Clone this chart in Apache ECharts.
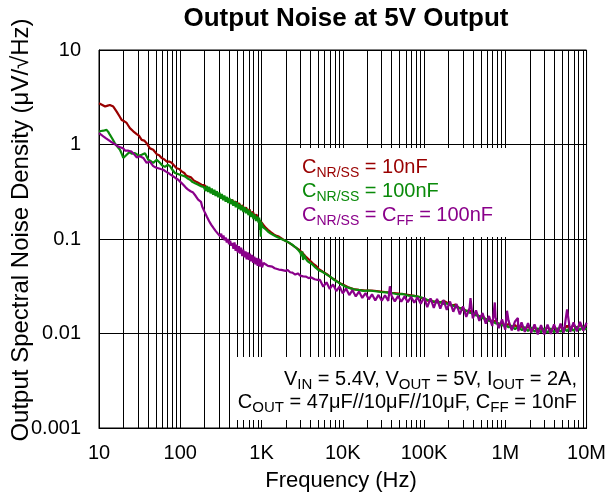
<!DOCTYPE html>
<html><head><meta charset="utf-8">
<script src="https://cdn.jsdelivr.net/npm/echarts@6/dist/echarts.min.js"></script>
<style>html,body{margin:0;padding:0;background:#fff}#c{width:609px;height:497px}</style>
</head><body><div id="c"></div>
<script>
// ---------- DATA ----------
const xTickLabels = ['10','100','1K','10K','100K','1M','10M'];
const yTickLabels = ['0.001','0.01','0.1','1','10'];

const redF = [10,11,11.9,12.8,13.6,15,16.5,17.8,19,20.5,21.9,23,24,25.2,26.4,27.8,29.1,31,33.5,36,38.6,40.5,42.4,44.5,46.5,51.3,55,59,63,68,73,78.4,84,90.3,97,104,112,118,125,135,145,152,160,170,183,192,
200,210,221,232,244,256,269,282,296,311,326,342,359,377,396,416,436,458,481,505,530,557,585,614,645,677,711,746,784,823,864,907,952,1000,1050,1122,1200,1300,1420,1530,1636,1800,1950,2173,2400,2600,2884,3200,3500,3828,4300,4700,5081,5700,6370,7200,8000,8950,10000,11500,13500,15800,19000,23000,27800,33000,40000,49000,57000,66000,76000,86000,
100000,110000,120000,132000,145000,158000,174000,184000,200000,220000,244000,270000,300000,330000,363000,400000,436000,480000,525000,575000,630000,690000,760000,830000,910000,1e6,1.1e6,1.2e6,1.32e6,1.45e6,1.6e6,1.74e6,1.9e6,2.1e6,2.3e6,2.5e6,2.75e6,3e6,3.3e6,3.6e6,4e6,4.4e6,4.8e6,5.2e6,5.75e6,6.3e6,6.9e6,7.6e6,8.3e6,9.1e6,1e7];
const redV = [2.73,2.62,2.52,2.58,2.62,2.52,2.23,2.0,1.82,1.76,1.69,1.58,1.49,1.46,1.38,1.36,1.29,1.24,1.12,1.1,1.03,1.0,0.91,0.93,0.88,0.79,0.77,0.72,0.7,0.66,0.66,0.64,0.6,0.56,0.55,0.52,0.5,0.47,0.46,0.45,0.42,0.42,0.4,0.39,0.375,0.37,
0.37,0.35,0.36,0.333,0.344,0.316,0.326,0.3,0.312,0.286,0.296,0.272,0.283,0.258,0.27,0.248,0.261,0.238,0.25,0.227,0.24,0.216,0.228,0.205,0.216,0.195,0.206,0.184,0.194,0.173,0.182,0.161,0.167,0.15,0.142,0.132,0.125,0.118,0.112,0.108,0.106,0.1,0.096,0.0915,0.086,0.082,0.0773,0.071,0.065,0.0606,0.055,0.052,0.048,0.045,0.0425,0.039,0.037,0.0345,0.033,0.031,0.0295,0.029,0.0285,0.0285,0.028,0.0275,0.027,0.0265,0.026,0.0255,0.025,0.0245,
0.0232,0.0222,0.0228,0.0215,0.0222,0.0212,0.0222,0.0213,0.0208,0.0198,0.0202,0.0186,0.0186,0.0172,0.0176,0.016,0.0162,0.015,0.0153,0.0141,0.0143,0.0132,0.0136,0.0125,0.0129,0.012,0.0126,0.0115,0.0123,0.0112,0.012,0.011,0.0119,0.0108,0.0117,0.0106,0.0116,0.0104,0.0118,0.0105,0.0119,0.0106,0.012,0.0108,0.0121,0.011,0.0124,0.0111,0.0126,0.0113,0.0125];

const greenF = [10,10.6,11.3,12.4,13,13.6,14.6,15.7,16.8,18.1,19,19.9,21.9,24,25.2,26.4,27.7,29.1,31,33.5,36.8,38.5,40.4,43,46.5,49,51.3,56.2,60,64.8,70,74.7,80,86,92,99,106,114,122,132,142,152,162,170,183,195,
205,212,220,228,236,245,254,263,272,282,292,303,314,325,337,349,362,375,389,403,418,433,449,465,482,500,518,537,557,577,598,620,643,666,690,715,741,768,796,825,855,886,918,935,952,965,980,995,
1010,1060,1122,1200,1300,1400,1490,1600,1750,1900,2050,2200,2389,2550,2700,2850,3000,3100,3170,3250,3350,3500,3700,3900,4200,4600,5000,5600,6200,7000,7800,8700,9700,11000,12500,14000,16000,18000,21000,25000,29000,34000,40000,47000,55000,64000,74000,86000,
100000,110000,120000,132000,145000,158000,174000,190000,210000,230000,250000,275000,300000,330000,365000,400000,440000,480000,525000,575000,630000,690000,760000,830000,910000,1e6,1.1e6,1.2e6,1.32e6,1.45e6,1.6e6,1.74e6,1.9e6,2.1e6,2.3e6,2.5e6,2.75e6,3e6,3.3e6,3.6e6,4e6,4.4e6,4.8e6,5.2e6,5.75e6,6.3e6,6.9e6,7.6e6,8.3e6,9.1e6,1e7];
const greenV = [1.37,1.39,1.4,1.43,1.36,1.27,1.15,1.03,0.95,0.88,0.8,0.72,0.78,0.84,0.8,0.78,0.81,0.79,0.76,0.78,0.81,0.75,0.69,0.67,0.64,0.67,0.69,0.64,0.6,0.58,0.61,0.59,0.54,0.5,0.49,0.479,0.47,0.46,0.44,0.424,0.4,0.39,0.38,0.375,0.36,0.355,
0.322,0.365,0.315,0.356,0.304,0.342,0.294,0.332,0.285,0.321,0.276,0.31,0.266,0.3,0.257,0.289,0.248,0.279,0.24,0.271,0.234,0.262,0.225,0.253,0.217,0.244,0.208,0.234,0.201,0.226,0.193,0.217,0.187,0.209,0.179,0.2,0.171,0.19,0.163,0.182,0.155,0.173,0.149,0.169,0.125,0.16,0.106,0.15,
0.142,0.132,0.127,0.12,0.114,0.11,0.107,0.104,0.1,0.097,0.094,0.091,0.087,0.083,0.08,0.076,0.072,0.066,0.074,0.06,0.068,0.062,0.058,0.057,0.054,0.05,0.047,0.045,0.0425,0.04,0.037,0.035,0.033,0.031,0.03,0.0292,0.0288,0.0282,0.0285,0.028,0.0275,0.0272,0.0268,0.026,0.0262,0.0252,0.025,0.0245,
0.0236,0.0226,0.0222,0.0218,0.0213,0.0215,0.0206,0.0208,0.02,0.0197,0.019,0.0186,0.0178,0.0175,0.0166,0.0163,0.0155,0.0153,0.0145,0.0143,0.0136,0.0135,0.0128,0.0128,0.0122,0.0123,0.0116,0.0121,0.0111,0.0119,0.0108,0.0117,0.0106,0.0116,0.0104,0.0114,0.0103,0.0113,0.0102,0.0113,0.0103,0.0114,0.0104,0.0115,0.0106,0.0117,0.0107,0.0118,0.0109,0.0119,0.011];

const purpleF = [10,10.6,11.3,12.1,13,14,15,16.1,17.3,18.6,19.9,21,21.9,23,24,25.2,26.4,27.8,29.1,30.5,31.9,33.5,35.1,36.8,38.6,40.5,42.4,44.5,46.5,50,53.6,57.5,61.8,66,71.2,76,82,88,94.4,101,109,117,125,134,144,155,166,175,
180,186,192,198,205,212,219,226,233,240,248,256,264,272,281,290,299,309,319,329,340,351,362,374,386,398,411,424,437,451,465,480,495,511,527,544,561,579,597,616,636,656,677,698,720,743,767,791,816,842,869,897,925,955,985,1015,1060,1122,1200,1250,1355,1450,1530,1636,1750,1850,1977,2100,2250,2400,2600,2800,3000,3250,3540,3800,4100,4500,4800,
5248,5754,6310,6918,7586,8318,9120,10000,10965,12023,13183,14454,15849,17378,19055,20893,22909,25119,27542,30200,33113,36308,38000,39811,43652,47863,52481,57544,63096,69183,75858,83176,91201,
100000,109648,120226,131826,144544,158489,173780,190546,208930,229087,251189,275423,301995,331131,363078,373000,398107,436516,478630,524807,575440,630957,691831,743000,758578,831764,912011,1000000,1050000,1096000,1202000,1318000,1430000,1445000,1585000,1738000,1905000,2089000,2291000,2512000,2754000,3020000,3311000,3631000,3981000,4365000,4786000,5248000,5760000,6310000,6918000,7586000,8318000,9120000,10000000];
const purpleV = [1.32,1.27,1.22,1.17,1.12,1.07,1.035,0.99,0.95,0.93,0.91,0.86,0.84,0.86,0.88,0.84,0.81,0.77,0.73,0.74,0.75,0.74,0.72,0.68,0.64,0.65,0.66,0.62,0.59,0.57,0.56,0.55,0.54,0.52,0.5,0.48,0.46,0.44,0.424,0.4,0.375,0.35,0.333,0.32,0.31,0.285,0.261,0.25,
0.247,0.221,0.221,0.196,0.196,0.173,0.173,0.155,0.157,0.142,0.144,0.131,0.134,0.122,0.126,0.114,0.118,0.107,0.114,0.101,0.109,0.097,0.104,0.092,0.1,0.088,0.096,0.085,0.091,0.079,0.092,0.075,0.087,0.072,0.084,0.07,0.081,0.066,0.077,0.064,0.074,0.061,0.072,0.06,0.07,0.058,0.068,0.056,0.065,0.054,0.063,0.052,0.062,0.051,0.061,0.05,0.056,0.054,0.052,0.053,0.051,0.049,0.05,0.0475,0.0472,0.0462,0.046,0.047,0.0445,0.044,0.042,0.0432,0.041,0.0402,0.04,0.0385,0.0392,0.0375,0.037,
0.0369,0.0313,0.0348,0.0296,0.0331,0.0281,0.0314,0.0266,0.0299,0.0255,0.0287,0.0247,0.0278,0.0238,0.0268,0.023,0.026,0.0224,0.0256,0.0222,0.0254,0.0221,0.0316,0.0251,0.0219,0.0249,0.0217,0.0247,0.0215,0.0244,0.0212,0.0241,0.0206,
0.0241,0.019,0.0236,0.0187,0.0232,0.0183,0.0226,0.0178,0.0218,0.017,0.0205,0.0159,0.0194,0.015,0.0185,0.0237,0.0145,0.0176,0.0136,0.0165,0.0127,0.0153,0.012,0.0213,0.0147,0.0114,0.0141,0.011,0.0174,0.0137,0.0108,0.0134,0.0146,0.0106,0.0131,0.0104,0.0129,0.0102,0.0125,0.0098,0.0123,0.0098,0.0124,0.0099,0.0125,0.01,0.0127,0.0102,0.018,0.0104,0.0131,0.0105,0.0133,0.0107,0.013];

// ---------- CHART ----------
const FONT = '"Liberation Sans", Arial, sans-serif';
const RED = '#990000', GREEN = '#0a8a0a', PURPLE = '#8a008a';
const pairs = (f, v) => f.map((x, i) => [x, v[i]]);

const minorLines = [];
for (let d = 10; d < 1e7; d *= 10) for (let k = 2; k <= 9; k++) minorLines.push({ xAxis: k * d });

const chart = echarts.init(document.getElementById('c'), null, { renderer: 'canvas' });
const mainRich = (color, fs, sub) => ({
  m: { fontSize: fs, lineHeight: 26, fill: color, fontFamily: FONT },
  s: { fontSize: sub, lineHeight: sub, verticalAlign: 'bottom', fill: color, fontFamily: FONT }
});

chart.setOption({
  animation: false,
  backgroundColor: '#fff',
  grid: { left: 99, top: 50, right: 22, bottom: 69, show: true, borderColor: '#000', borderWidth: 1 },
  xAxis: {
    type: 'log', logBase: 10, min: 10, max: 1e7, splitNumber: 6,
    axisLine: { show: true, lineStyle: { color: '#000', width: 1 } },
    axisTick: { show: false },
    axisLabel: { color: '#000', fontSize: 20, fontFamily: FONT, margin: 15,
      formatter: v => xTickLabels[Math.round(Math.log10(v)) - 1] },
    splitLine: { show: true, lineStyle: { color: '#000', width: 1 } }
  },
  yAxis: {
    type: 'log', logBase: 10, min: 0.001, max: 10, splitNumber: 4,
    axisLine: { show: true, lineStyle: { color: '#000', width: 1 } },
    axisTick: { show: false },
    axisLabel: { color: '#000', fontSize: 20, fontFamily: FONT, margin: 18,
      formatter: v => yTickLabels[Math.round(Math.log10(v)) + 3] },
    splitLine: { show: true, lineStyle: { color: '#000', width: 1 } }
  },
  series: [
    { type: 'line', z: 0, data: [], silent: true,
      markLine: { z: 0, silent: true, symbol: ['none', 'none'], label: { show: false },
        lineStyle: { color: '#000', width: 1, type: 'solid' }, data: minorLines, animation: false } },
    { type: 'line', z: 5, data: pairs(redF, redV), showSymbol: false, lineStyle: { color: RED, width: 2.2 } },
    { type: 'line', z: 6, data: pairs(greenF, greenV), showSymbol: false, lineStyle: { color: GREEN, width: 2.2 } },
    { type: 'line', z: 7, data: pairs(purpleF, purpleV), showSymbol: false, lineStyle: { color: PURPLE, width: 2.2 } }
  ],
  graphic: [
    { type: 'rect', z: 3, silent: true, shape: { x: 288, y: 148, width: 218, height: 89 }, style: { fill: '#fff' } },
    { type: 'rect', z: 3, silent: true, shape: { x: 230, y: 357, width: 349, height: 63 }, style: { fill: '#fff' } },
    { type: 'text', z: 10, x: 346, y: 19, style: { text: 'Output Noise at 5V Output', fill: '#000',
        font: 'bold 26px ' + FONT, align: 'center', verticalAlign: 'middle' } },
    { type: 'text', z: 10, x: 341, y: 481, style: { text: 'Frequency (Hz)', fill: '#000',
        font: '22px ' + FONT, align: 'center', verticalAlign: 'middle' } },
    { type: 'text', z: 10, x: 21, y: 230, rotation: Math.PI / 2, style: { text: 'Output Spectral Noise Density (μV/√Hz)', fill: '#000',
        font: '24px ' + FONT, align: 'center', verticalAlign: 'middle' } },
    { type: 'text', z: 10, x: 302, y: 167, style: { text: '{m|C}{s|NR/SS}{m| = 10nF}', rich: mainRich(RED, 20, 14), align: 'left', verticalAlign: 'middle' } },
    { type: 'text', z: 10, x: 302, y: 191, style: { text: '{m|C}{s|NR/SS}{m| = 100nF}', rich: mainRich(GREEN, 20, 14), align: 'left', verticalAlign: 'middle' } },
    { type: 'text', z: 10, x: 302, y: 215, style: { text: '{m|C}{s|NR/SS}{m| = C}{s|FF}{m| = 100nF}', rich: mainRich(PURPLE, 20, 14), align: 'left', verticalAlign: 'middle' } },
    { type: 'text', z: 10, x: 577, y: 379, style: { text: '{m|V}{s|IN}{m| = 5.4V, V}{s|OUT}{m| = 5V, I}{s|OUT}{m| = 2A,}', rich: mainRich('#000', 20, 15), align: 'right', verticalAlign: 'middle' } },
    { type: 'text', z: 10, x: 577, y: 402, style: { text: '{m|C}{s|OUT}{m| = 47μF//10μF//10μF, C}{s|FF}{m| = 10nF}', rich: mainRich('#000', 20, 15), align: 'right', verticalAlign: 'middle' } }
  ]
});
</script>
</body></html>
